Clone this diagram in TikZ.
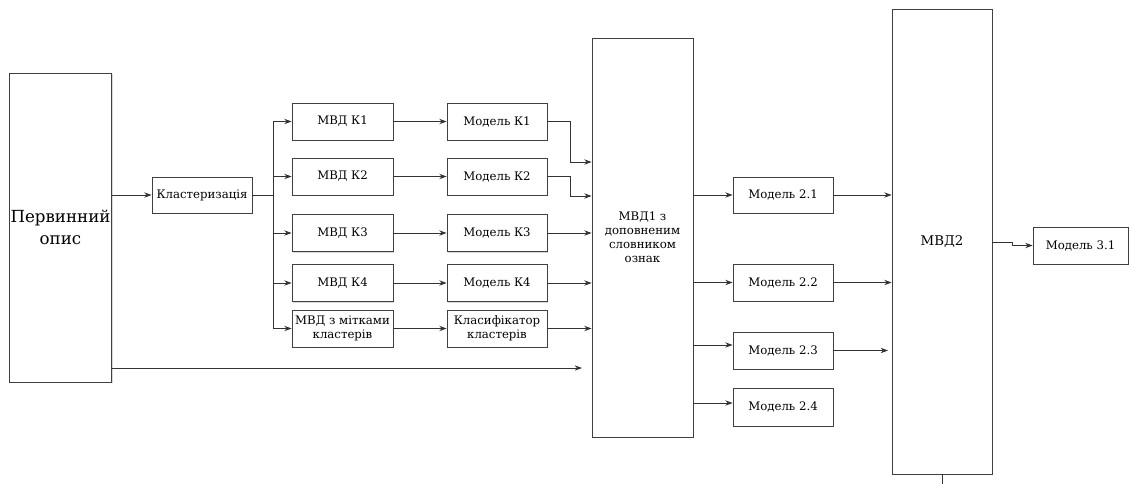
\documentclass[tikz,border=0pt]{standalone}
\usepackage{fontspec}
\newfontfamily\tnr{DejaVu Serif}
\usetikzlibrary{arrows.meta,shadows}
\begin{document}
\begin{tikzpicture}[x=0.75pt,y=-0.75pt,
  box/.style={draw=black!75, line width=0.6pt, fill=white, inner sep=1pt, align=center,
    font=\tnr\fontsize{8.8}{10.8}\selectfont,
    drop shadow={shadow xshift=1pt, shadow yshift=-1pt, opacity=0.3, fill=gray}},
  ln/.style={draw=black!80, line width=0.6pt},
  arr/.style={ln, -{Stealth[length=5.5pt,width=4pt]}}]
\useasboundingbox (0,0) rectangle (1129,483);

% nodes
\node[box, minimum width=0.75*101pt, minimum height=0.75*309pt, font=\tnr\fontsize{12.5}{17}\selectfont] (perv) at (60.5,227.5) {Первинний\\опис};
\node[box, minimum width=0.75*100pt, minimum height=0.75*36pt] (klast) at (202,195) {Кластеризація};

\node[box, minimum width=0.75*101pt, minimum height=0.75*37pt] (mk1) at (342.5,121.5) {МВД К1};
\node[box, minimum width=0.75*101pt, minimum height=0.75*37pt] (mk2) at (342.5,176.5) {МВД К2};
\node[box, minimum width=0.75*101pt, minimum height=0.75*37pt] (mk3) at (342.5,233) {МВД К3};
\node[box, minimum width=0.75*101pt, minimum height=0.75*37pt] (mk4) at (342.5,283) {МВД К4};
\node[box, minimum width=0.75*101pt, minimum height=0.75*37pt] (mkl) at (342.5,328.5) {МВД з мітками\\кластерів};

\node[box, minimum width=0.75*100pt, minimum height=0.75*37pt] (md1) at (497,121.5) {Модель К1};
\node[box, minimum width=0.75*100pt, minimum height=0.75*37pt] (md2) at (497,176.5) {Модель К2};
\node[box, minimum width=0.75*100pt, minimum height=0.75*37pt] (md3) at (497,233) {Модель К3};
\node[box, minimum width=0.75*100pt, minimum height=0.75*37pt] (md4) at (497,283) {Модель К4};
\node[box, minimum width=0.75*100pt, minimum height=0.75*37pt] (mdl) at (497,328.5) {Класифікатор\\кластерів};

\node[box, minimum width=0.75*101pt, minimum height=0.75*399pt, font=\tnr\fontsize{8.8}{10.5}\selectfont] (mvd1) at (642.5,237.5) {МВД1 з\\доповненим\\словником\\ознак};

\node[box, minimum width=0.75*100pt, minimum height=0.75*36pt] (m21) at (783,195) {Модель 2.1};
\node[box, minimum width=0.75*100pt, minimum height=0.75*37pt] (m22) at (783,282.5) {Модель 2.2};
\node[box, minimum width=0.75*100pt, minimum height=0.75*37pt] (m23) at (783,350.5) {Модель 2.3};
\node[box, minimum width=0.75*100pt, minimum height=0.75*38pt] (m24) at (783,407) {Модель 2.4};

\node[box, minimum width=0.75*100pt, minimum height=0.75*465pt, font=\tnr\fontsize{10}{13}\selectfont] (mvd2) at (942,241.5) {МВД2};
\node[box, minimum width=0.75*95pt, minimum height=0.75*37pt] (m31) at (1080.5,245.5) {Модель 3.1};

% connectors
\draw[arr] (perv.east |- klast.west) -- (klast.west);
\coordinate (bus) at (273,195);
\draw[ln] (klast.east) -- (bus);
\foreach \n in {mk1,mk2,mk3,mk4,mkl} {
  \draw[arr] (bus) |- (\n.west);
}
\draw[arr] (mk1) -- (md1);
\draw[arr] (mk2) -- (md2);
\draw[arr] (mk3) -- (md3);
\draw[arr] (mk4) -- (md4);
\draw[arr] (mkl) -- (mdl);

\draw[arr] (md1.east) -- (570,121.5) |- (mvd1.west |- 0,162);
\draw[arr] (md2.east) -- (570,176.5) |- (mvd1.west |- 0,196);
\draw[arr] (md3.east) -- (mvd1.west |- md3.east);
\draw[arr] (md4.east) -- (mvd1.west |- md4.east);
\draw[arr] (mdl.east) -- (mvd1.west |- mdl.east);

\coordinate (pend) at (582,368);
\draw[arr] (perv.east |- pend) -- (pend);

\draw[arr] (mvd1.east |- m21.west) -- (m21.west);
\draw[arr] (mvd1.east |- m22.west) -- (m22.west);
\draw[arr] (mvd1.east |- 0,345) -- (m23.west |- 0,345);
\draw[arr] (mvd1.east |- 0,403) -- (m24.west |- 0,403);

\draw[arr] (m21.east) -- (mvd2.west |- m21.east);
\draw[arr] (m22.east) -- (mvd2.west |- m22.east);
\coordinate (m23end) at (888,350.5);
\draw[arr] (m23.east) -- (m23end);

\draw[arr] (mvd2.east |- 0,242) -- (1012,242) -- (1012,245.5) -- (m31.west);
\coordinate (mvd2tail) at (942,490);
\draw[ln] (mvd2.south) -- (mvd2tail);
\end{tikzpicture}
\end{document}
